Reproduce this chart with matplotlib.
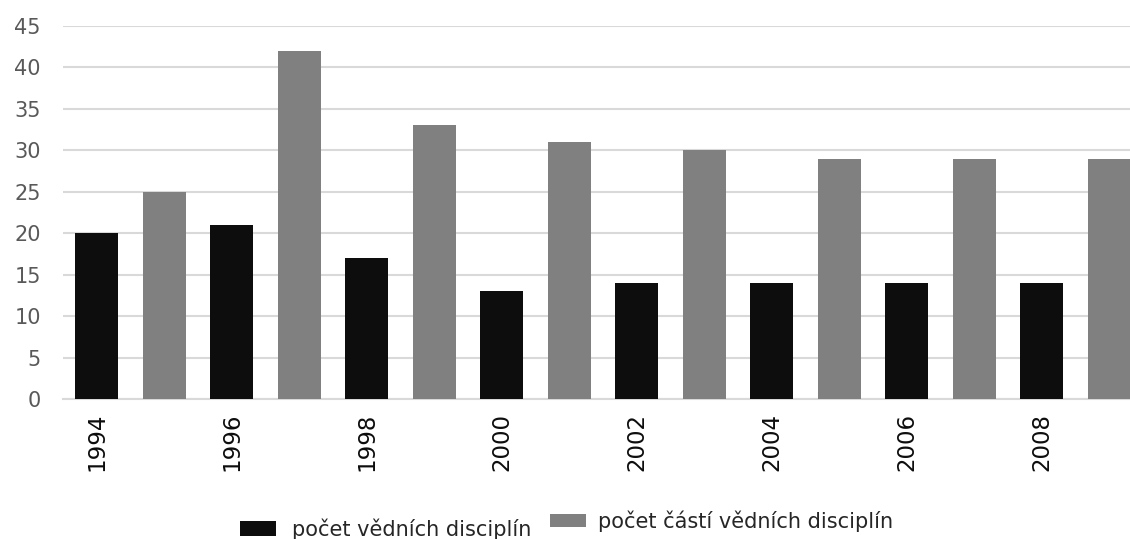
import numpy as np
import matplotlib
matplotlib.use("Agg")
import matplotlib.pyplot as plt

# data
years = list(range(1994, 2010))
tick_years = ["1994", "1996", "1998", "2000", "2002", "2004", "2006", "2008"]
disciplines = [20, 21, 17, 13, 14, 14, 14, 14]          # even years
discipline_parts = [25, 42, 33, 31, 30, 29, 29, 29]     # odd years
yticks = [0, 5, 10, 15, 20, 25, 30, 35, 40, 45]

plt.rcParams["font.family"] = ["DejaVu Sans"]

fig = plt.figure(figsize=(11.3, 5.39), dpi=100)
ax = fig.add_axes([63 / 1130, 1 - 399 / 539, 1080 / 1130, 373 / 539])

x = np.arange(len(years))
x_even = x[0::2]
x_odd = x[1::2]
w = 0.64
b1 = ax.bar(x_even, disciplines, width=w, color="#0d0d0d", zorder=3)
b2 = ax.bar(x_odd, discipline_parts, width=w, color="#808080", zorder=3)

ax.set_xlim(-0.5, len(years) - 0.5)
ax.set_ylim(0, 45)
ax.set_yticks(yticks)
ax.set_yticklabels([str(v) for v in yticks], fontsize=15, color="#595959")
ax.set_xticks(x_even)
ax.set_xticklabels(tick_years, rotation=90, fontsize=16.5, color="#0d0d0d")
ax.tick_params(axis="both", length=0)
ax.tick_params(axis="y", pad=16)
ax.tick_params(axis="x", pad=10)

ax.grid(axis="y", color="#d9d9d9", linewidth=1.5, zorder=0)
for s in ["top", "right", "left"]:
    ax.spines[s].set_visible(False)
ax.spines["bottom"].set_color("#d9d9d9")
ax.spines["bottom"].set_linewidth(1.5)

# two legend entries, placed like in the original
leg1 = fig.legend([b1], ["počet vědních disciplín"], loc="center",
                  bbox_to_anchor=(386 / 1130, 1 - 529 / 539), frameon=False,
                  fontsize=15, handlelength=1.7, handleheight=0.8,
                  handletextpad=0.8, labelcolor="#262626")
leg2 = fig.legend([b2], ["počet částí vědních disciplín"], loc="center",
                  bbox_to_anchor=(722 / 1130, 1 - 521 / 539), frameon=False,
                  fontsize=15, handlelength=1.7, handleheight=0.6,
                  handletextpad=0.6, labelcolor="#262626")

fig.savefig("out.png", dpi=100)
